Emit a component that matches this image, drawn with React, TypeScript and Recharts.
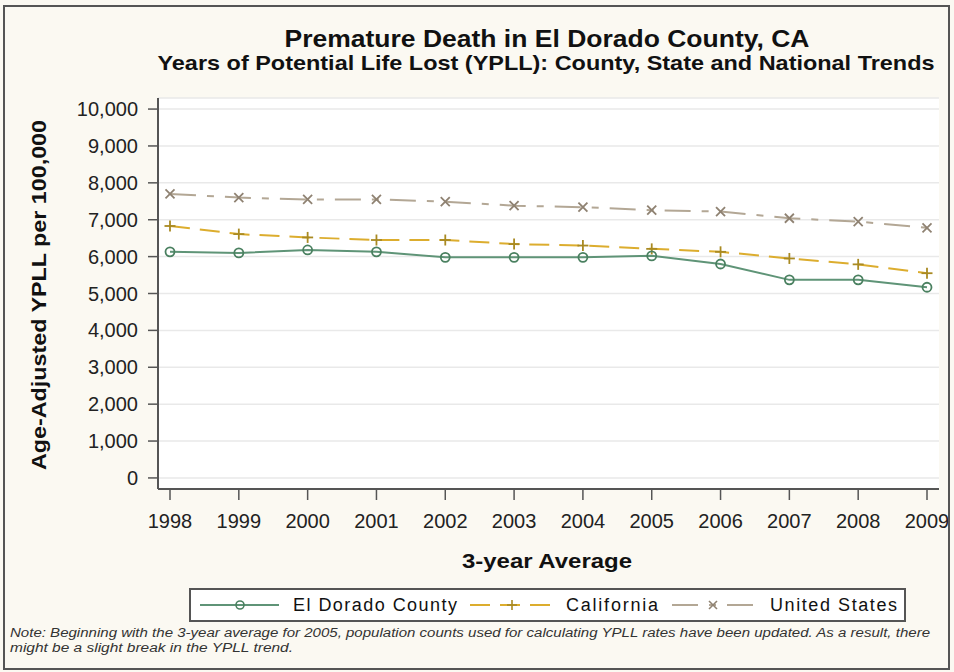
import React from 'react';
import { LineChart, Line, XAxis, YAxis, CartesianGrid } from 'recharts';

const years = ['1998', '1999', '2000', '2001', '2002', '2003', '2004', '2005', '2006', '2007', '2008', '2009'];
const elDorado = [6130, 6100, 6180, 6130, 5980, 5980, 5980, 6020, 5800, 5370, 5370, 5170];
const california = [6830, 6610, 6520, 6450, 6450, 6340, 6300, 6210, 6130, 5950, 5790, 5550];
const unitedStates = [7700, 7600, 7550, 7550, 7490, 7380, 7340, 7260, 7220, 7040, 6950, 6780];
const yTicks = [0, 1000, 2000, 3000, 4000, 5000, 6000, 7000, 8000, 9000, 10000];

const seriesNames = ['El Dorado County', 'California', 'United States'];

const data = years.map((y, i) => ({
  year: y,
  ed: elDorado[i],
  ca: california[i],
  us: unitedStates[i],
}));

const GREEN = '#5f9477';
const GREEN_M = '#4a8060';
const GOLD = '#dcad2e';
const GOLD_M = '#a98a22';
const GRAY = '#b3a795';
const GRAY_M = '#8f8272';
const BG = '#fbf9f2';
const FRAME = '#555555';
const FONT = 'Liberation Sans, Arial, Helvetica, sans-serif';

const CircleDot = (props: any) => {
  const { cx, cy, index } = props;
  if (cx == null || cy == null) return null;
  return <circle key={`c${index}`} cx={cx} cy={cy} r={4.5} fill="none" stroke={GREEN_M} strokeWidth={1.8} />;
};

const PlusDot = (props: any) => {
  const { cx, cy, index } = props;
  if (cx == null || cy == null) return null;
  return (
    <g key={`p${index}`} stroke={GOLD_M} strokeWidth={1.8}>
      <line x1={cx - 5.5} y1={cy} x2={cx + 5.5} y2={cy} />
      <line x1={cx} y1={cy - 5.5} x2={cx} y2={cy + 5.5} />
    </g>
  );
};

const XDot = (props: any) => {
  const { cx, cy, index } = props;
  if (cx == null || cy == null) return null;
  return (
    <g key={`x${index}`} stroke={GRAY_M} strokeWidth={1.8}>
      <line x1={cx - 4.5} y1={cy - 4.5} x2={cx + 4.5} y2={cy + 4.5} />
      <line x1={cx - 4.5} y1={cy + 4.5} x2={cx + 4.5} y2={cy - 4.5} />
    </g>
  );
};

const fmt = (v: number) => v.toLocaleString('en-US');

export default function App() {
  return (
    <div style={{ position: 'absolute', left: 0, top: 0, width: 954, height: 672, background: BG, fontFamily: FONT }}>
      <LineChart
        width={954}
        height={672}
        data={data}
        margin={{ top: 98, right: 15, bottom: 153, left: 98 }}
      >
        <CartesianGrid vertical={false} stroke="#e9e9e9" strokeWidth={1.5} fill="#ffffff" />
        <XAxis
          dataKey="year"
          padding={{ left: 12, right: 12 }}
          interval={0}
          height={30}
          tickSize={11}
          tickMargin={14}
          axisLine={{ stroke: FRAME, strokeWidth: 2 }}
          tickLine={{ stroke: FRAME, strokeWidth: 1.5 }}
          tick={{ fontSize: 20, fill: '#222', fontFamily: FONT }}
        />
        <XAxis
          xAxisId="top"
          orientation="top"
          dataKey="year"
          padding={{ left: 12, right: 12 }}
          height={0}
          tick={false}
          tickLine={false}
          axisLine={{ stroke: FRAME, strokeWidth: 2 }}
        />
        <YAxis
          type="number"
          domain={[-300, 10300]}
          ticks={yTicks}
          width={60}
          tickSize={10}
          tickMargin={10}
          tickFormatter={fmt}
          axisLine={{ stroke: FRAME, strokeWidth: 2 }}
          tickLine={{ stroke: FRAME, strokeWidth: 1.5 }}
          tick={{ fontSize: 20, fill: '#222', fontFamily: FONT }}
        />
        <YAxis
          yAxisId="right"
          orientation="right"
          type="number"
          domain={[-300, 10300]}
          width={0}
          tick={false}
          tickLine={false}
          axisLine={{ stroke: FRAME, strokeWidth: 2 }}
        />
        <Line
          dataKey="us"
          name={seriesNames[2]}
          stroke={GRAY}
          strokeWidth={2}
          strokeDasharray="26 11 7 11"
          dot={XDot}
          activeDot={false}
          isAnimationActive={false}
        />
        <Line
          dataKey="ca"
          name={seriesNames[1]}
          stroke={GOLD}
          strokeWidth={2}
          strokeDasharray="20 10"
          dot={PlusDot}
          activeDot={false}
          isAnimationActive={false}
        />
        <Line
          dataKey="ed"
          name={seriesNames[0]}
          stroke={GREEN}
          strokeWidth={2}
          dot={CircleDot}
          activeDot={false}
          isAnimationActive={false}
        />
      </LineChart>
      <svg
        width={954}
        height={672}
        style={{ position: 'absolute', left: 0, top: 0, pointerEvents: 'none' }}
      >
        <rect x={4} y={6} width={945} height={663} fill="none" stroke={FRAME} strokeWidth={2} />
        <text x={547} y={47} textAnchor="middle" fontFamily={FONT} fontWeight="bold" fontSize={23} fill="#111"
          textLength={525} lengthAdjust="spacingAndGlyphs">
          Premature Death in El Dorado County, CA
        </text>
        <text x={546} y={70} textAnchor="middle" fontFamily={FONT} fontWeight="bold" fontSize={21} fill="#111"
          textLength={777} lengthAdjust="spacingAndGlyphs">
          Years of Potential Life Lost (YPLL): County, State and National Trends
        </text>
        <text x={547} y={568} textAnchor="middle" fontFamily={FONT} fontWeight="bold" fontSize={21} fill="#111"
          textLength={170} lengthAdjust="spacingAndGlyphs">
          3-year Average
        </text>
        <text
          x={0}
          y={0}
          transform="translate(46 295) rotate(-90)"
          textAnchor="middle"
          fontFamily={FONT}
          fontWeight="bold"
          fontSize={21}
          fill="#111"
          textLength={350}
          lengthAdjust="spacingAndGlyphs"
        >
          Age-Adjusted YPLL per 100,000
        </text>

        {/* legend */}
        <rect x={190} y={589} width={715} height={32} fill="#ffffff" stroke={FRAME} strokeWidth={2} />
        <line x1={200} y1={605} x2={279} y2={605} stroke={GREEN} strokeWidth={2} />
        <circle cx={240} cy={605} r={4} fill="none" stroke={GREEN_M} strokeWidth={1.6} />
        <text x={293} y={611} fontFamily={FONT} fontSize={18} fill="#111" textLength={164} lengthAdjust="spacing">
          {seriesNames[0]}
        </text>
        <line x1={470} y1={605} x2={556} y2={605} stroke={GOLD} strokeWidth={2} strokeDasharray="20 10" />
        <g stroke={GOLD_M} strokeWidth={1.6}>
          <line x1={507} y1={605} x2={517} y2={605} />
          <line x1={512} y1={600} x2={512} y2={610} />
        </g>
        <text x={566} y={611} fontFamily={FONT} fontSize={18} fill="#111" textLength={92} lengthAdjust="spacing">
          {seriesNames[1]}
        </text>
        <line x1={672} y1={605} x2={758} y2={605} stroke={GRAY} strokeWidth={2} strokeDasharray="26 11 7 11" />
        <g stroke={GRAY_M} strokeWidth={1.6}>
          <line x1={709} y1={601} x2={717} y2={609} />
          <line x1={709} y1={609} x2={717} y2={601} />
        </g>
        <text x={770} y={611} fontFamily={FONT} fontSize={18} fill="#111" textLength={127} lengthAdjust="spacing">
          {seriesNames[2]}
        </text>

        {/* note */}
        <text x={10} y={637} fontFamily={FONT} fontStyle="italic" fontSize={12} fill="#333"
          textLength={920} lengthAdjust="spacingAndGlyphs">
          Note: Beginning with the 3-year average for 2005, population counts used for calculating YPLL rates have been updated. As a result, there
        </text>
        <text x={10} y={652} fontFamily={FONT} fontStyle="italic" fontSize={12} fill="#333"
          textLength={283} lengthAdjust="spacingAndGlyphs">
          might be a slight break in the YPLL trend.
        </text>
      </svg>
    </div>
  );
}
